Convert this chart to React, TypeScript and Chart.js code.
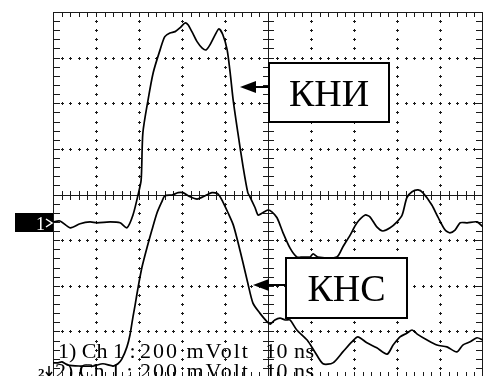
import React, { useEffect, useRef } from "react";
import { Chart, registerables } from "chart.js";

Chart.register(...registerables);

// ---- Data (time in ns, amplitude in screen divisions) ----
const ch1Time = [0, 1.6, 4.0, 6.3, 8.6, 10.2, 13.3, 15.6, 17.2, 18.6, 19.8, 20.5, 20.9, 22.1, 23.3, 24.9, 26.0, 27.2, 28.4, 29.5, 30.7, 31.4, 32.3, 33.5, 34.7, 35.6, 36.5, 37.7, 38.6, 39.5, 40.5, 41.2, 41.9, 43.0, 44.2, 45.3, 45.8, 47.0, 47.7, 48.8, 50.0, 50.9, 52.1, 53.5, 55.1, 56.7, 58.1, 59.8, 60.5, 61.6, 66.0, 67.4, 69.1, 70.7, 72.6, 73.7, 75.3, 76.7, 78.4, 80.0, 81.2, 82.3, 83.5, 84.9, 86.0, 88.1, 89.5, 91.2, 92.3, 93.5, 94.7, 96.3, 98.6, 100];
const ch1Value = [-0.6, -0.58, -0.73, -0.64, -0.6, -0.62, -0.6, -0.62, -0.73, -0.45, 0.0, 0.32, 1.35, 2.07, 2.67, 3.17, 3.46, 3.54, 3.57, 3.65, 3.76, 3.72, 3.57, 3.35, 3.21, 3.17, 3.28, 3.5, 3.63, 3.5, 3.17, 2.67, 2.07, 1.35, 0.61, 0.04, -0.05, -0.29, -0.45, -0.4, -0.34, -0.38, -0.51, -0.84, -1.17, -1.37, -1.37, -1.37, -1.3, -1.37, -1.37, -1.15, -0.89, -0.62, -0.45, -0.49, -0.71, -0.8, -0.73, -0.6, -0.45, -0.07, 0.06, 0.1, 0.04, -0.23, -0.49, -0.78, -0.84, -0.78, -0.62, -0.62, -0.6, -0.71];

const ch2Time = [0, 1.2, 2.1, 3.5, 6.3, 9.3, 11.6, 14.0, 15.1, 16.0, 17.2, 17.9, 18.6, 19.1, 19.8, 20.7, 21.9, 23.0, 24.2, 25.3, 26.0, 27.7, 29.1, 30.2, 31.9, 33.5, 34.9, 37.0, 38.4, 39.5, 40.7, 41.9, 43.0, 44.2, 45.3, 46.5, 48.1, 49.8, 50.5, 51.6, 52.8, 54.0, 55.1, 56.7, 59.1, 60.9, 62.8, 65.1, 67.4, 69.5, 70.9, 73.0, 75.3, 77.7, 79.1, 80.7, 82.3, 83.5, 84.7, 87.0, 89.3, 91.6, 93.9, 95.3, 97.0, 98.6, 100];
const ch2Value = [-3.69, -3.69, -3.67, -3.74, -3.76, -3.76, -3.71, -3.76, -3.71, -3.61, -3.34, -3.08, -2.68, -2.42, -2.03, -1.59, -1.15, -0.78, -0.4, -0.16, -0.03, -0.01, 0.04, 0.04, -0.05, -0.1, -0.05, 0.04, 0.01, -0.16, -0.4, -0.66, -1.04, -1.5, -1.94, -2.38, -2.6, -2.79, -2.84, -2.75, -2.71, -2.75, -2.75, -2.97, -3.19, -3.45, -3.71, -3.69, -3.45, -3.23, -3.12, -3.25, -3.36, -3.5, -3.3, -3.12, -3.04, -2.97, -3.06, -3.19, -3.3, -3.34, -3.45, -3.3, -3.23, -3.14, -3.19];

const xMin = 0, xMax = 100, xMajor = 10, xMinorCount = 5; // 10 ns/div
const yMin = -4, yMax = 4, yMajor = 1, yMinorCount = 5; // divisions
const ch1Reference = -0.62;

const traceLabels = ["КНИ", "КНС"];
const footerLine1 = ["1) Ch 1 :", "200 mVolt", "10 ns"];
const footerLine2 = ["2) Ch 1 :", "200 mVolt", "10 ns"];

// label boxes in data coordinates (x in ns, y in div)
const labelBoxes = [
  { x0: 50.2, x1: 78.1, y0: 2.89, y1: 1.59, tipX: 43.5, tipY: 2.36 },
  { x0: 54.2, x1: 82.3, y0: -1.39, y1: -2.71, tipX: 46.5, tipY: -1.98 },
];

const toPoints = (t: number[], v: number[]) => t.map((tt, i) => ({ x: tt, y: v[i] }));

const scopePlugin = {
  id: "scope",
  beforeDatasetsDraw(chart: any) {
    const { ctx, chartArea: a, scales } = chart;
    const xs = scales.x, ys = scales.y;
    const X = (v: number) => Math.round(xs.getPixelForValue(v));
    const Y = (v: number) => Math.round(ys.getPixelForValue(v));
    ctx.save();
    const col = "#1a1a1a";
    ctx.fillStyle = col;
    const cross = (px: number, py: number) => {
      ctx.fillRect(px - 1, py, 3, 1);
      ctx.fillRect(px, py - 1, 1, 3);
    };
    const nx = Math.round((xMax - xMin) / xMajor);
    const ny = Math.round((yMax - yMin) / yMajor);
    const xCenterIdx = nx / 2, yCenterIdx = ny / 2;
    for (let i = 1; i < nx; i++) {
      if (i === xCenterIdx) continue;
      const px = X(xMin + i * xMajor);
      for (let j = 1; j < ny * yMinorCount; j++) {
        cross(px, Y(yMin + (j * yMajor) / yMinorCount));
      }
    }
    for (let j = 1; j < ny; j++) {
      if (j === yCenterIdx) continue;
      const py = Y(yMin + j * yMajor);
      for (let i = 1; i < nx * xMinorCount; i++) {
        cross(X(xMin + (i * xMajor) / xMinorCount), py);
      }
    }
    ctx.strokeStyle = col;
    ctx.lineWidth = 1;
    const L = Math.round(a.left), R = Math.round(a.right) - 1, T = Math.round(a.top), B = Math.round(a.bottom) - 1;
    ctx.strokeRect(L + 0.5, T + 0.5, R - L, B - T);
    const cx = X((xMin + xMax) / 2), cy = Y((yMin + yMax) / 2);
    ctx.fillRect(cx, T, 1, B - T);
    ctx.fillRect(L, cy, R - L, 1);
    for (let i = 1; i < nx * xMinorCount; i++) {
      const px = X(xMin + (i * xMajor) / xMinorCount);
      ctx.fillRect(px, T, 1, 5);
      ctx.fillRect(px, B - 4, 1, 5);
      ctx.fillRect(px, cy - 4, 1, 9);
    }
    for (let j = 1; j < ny * yMinorCount; j++) {
      const py = Y(yMin + (j * yMajor) / yMinorCount);
      ctx.fillRect(L, py, 7, 1);
      ctx.fillRect(R - 6, py, 7, 1);
      ctx.fillRect(cx - 5, py, 11, 1);
    }
    ctx.restore();
  },
  afterDatasetsDraw(chart: any) {
    const { ctx, scales } = chart;
    const xs = scales.x, ys = scales.y;
    const X = (v: number) => Math.round(xs.getPixelForValue(v));
    const Y = (v: number) => Math.round(ys.getPixelForValue(v));
    ctx.save();
    labelBoxes.forEach((b, k) => {
      const l = X(b.x0), r = X(b.x1), t = Y(b.y0), bt = Y(b.y1);
      ctx.fillStyle = "#fff";
      ctx.fillRect(l, t, r - l, bt - t);
      ctx.strokeStyle = "#000";
      ctx.lineWidth = 2;
      ctx.strokeRect(l, t, r - l, bt - t);
      ctx.fillStyle = "#000";
      ctx.font = "38px 'Liberation Serif'";
      ctx.textAlign = "center";
      ctx.textBaseline = "alphabetic";
      ctx.fillText(traceLabels[k], (l + r) / 2, (t + bt) / 2 + 13);
      const tx = X(b.tipX), ty = Y(b.tipY);
      const headLen = 16;
      ctx.beginPath();
      ctx.moveTo(tx + headLen - 2, ty);
      ctx.lineTo(l, ty);
      ctx.stroke();
      ctx.beginPath();
      ctx.moveTo(tx, ty);
      ctx.lineTo(tx + headLen, ty - 6);
      ctx.lineTo(tx + headLen, ty + 6);
      ctx.closePath();
      ctx.fill();
    });
    ctx.restore();
  },
  afterDraw(chart: any) {
    const { ctx, scales } = chart;
    const ys = scales.y;
    ctx.save();
    ctx.fillStyle = "#000";
    ctx.font = "22px 'Liberation Serif'";
    ctx.textAlign = "left";
    ctx.textBaseline = "alphabetic";
    const segX1 = [58, 140, 265];
    const segX2 = [55, 140, 265];
    const spacing = [0, 2, 0.5];
    footerLine1.forEach((s, i) => {
      (ctx as any).letterSpacing = spacing[i] + "px";
      ctx.fillText(s, segX1[i], 358);
    });
    footerLine2.forEach((s, i) => {
      (ctx as any).letterSpacing = spacing[i] + "px";
      ctx.fillText(s, segX2[i], 378);
    });
    (ctx as any).letterSpacing = "0px";
    const ry = Math.round(ys.getPixelForValue(ch1Reference));
    ctx.fillStyle = "#000";
    ctx.fillRect(15, ry - 10, 38, 19);
    ctx.fillStyle = "#fff";
    ctx.font = "18px 'Liberation Serif'";
    ctx.fillText("1", 36, ry + 7);
    ctx.strokeStyle = "#fff";
    ctx.lineWidth = 1.5;
    ctx.beginPath();
    ctx.moveTo(46, ry - 4);
    ctx.lineTo(52, ry);
    ctx.lineTo(46, ry + 4);
    ctx.stroke();
    ctx.fillStyle = "#000";
    ctx.font = "bold 13px 'Liberation Serif'";
    ctx.fillText("2", 38, 377);
    ctx.strokeStyle = "#000";
    ctx.lineWidth = 1.5;
    ctx.beginPath();
    ctx.moveTo(49, 366);
    ctx.lineTo(49, 376);
    ctx.moveTo(46, 372);
    ctx.lineTo(49, 376);
    ctx.lineTo(52, 372);
    ctx.stroke();
    ctx.restore();
  },
};

export default function App() {
  const ref = useRef<HTMLCanvasElement | null>(null);
  useEffect(() => {
    if (!ref.current) return;
    const chart = new Chart(ref.current, {
      type: "line",
      data: {
        datasets: [
          {
            label: "Ch 1",
            data: toPoints(ch1Time, ch1Value),
            borderColor: "#000",
            borderWidth: 1.7,
            pointRadius: 0,
            tension: 0.25,
            fill: false,
          },
          {
            label: "Ch 2",
            data: toPoints(ch2Time, ch2Value),
            borderColor: "#000",
            borderWidth: 1.7,
            pointRadius: 0,
            tension: 0.25,
            fill: false,
          },
        ],
      },
      options: {
        animation: false,
        responsive: false,
        devicePixelRatio: 1,
        parsing: false,
        layout: { padding: { left: 53, right: 2, top: 12, bottom: 0 } },
        plugins: { legend: { display: false }, tooltip: { enabled: false } },
        scales: {
          x: { type: "linear", min: xMin, max: xMax, display: false },
          y: { type: "linear", min: yMin, max: yMax, display: false },
        },
      },
      plugins: [scopePlugin],
    });
    return () => chart.destroy();
  }, []);
  return (
    <div style={{ position: "absolute", left: 0, top: 0, width: 485, height: 377, background: "#fff" }}>
      <canvas ref={ref} width={485} height={377} style={{ display: "block" }} />
    </div>
  );
}
